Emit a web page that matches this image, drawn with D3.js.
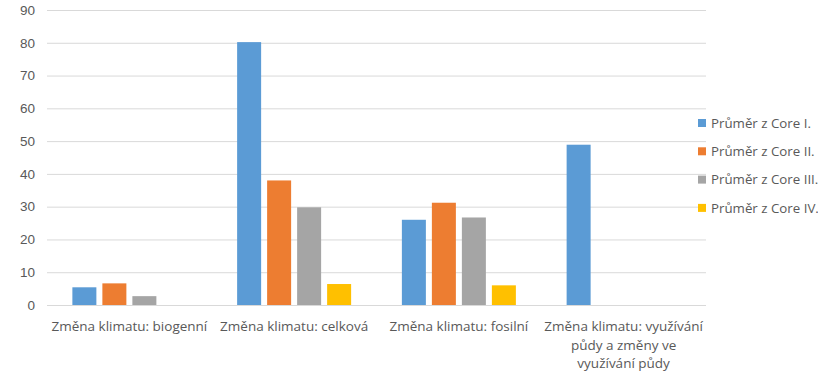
<!DOCTYPE html>
<html>
<head>
<meta charset="utf-8">
<script src="https://cdn.jsdelivr.net/npm/d3@7"></script>
<style>
  html, body { margin: 0; padding: 0; background: #fff; }
  svg { display: block; font-family: "Open Sans", "Liberation Sans", sans-serif; }
</style>
</head>
<body>
<svg id="chart" width="818" height="371"></svg>
<script>
// Categories (each wrapped into lines for the x axis)
const categories = [
  ["Změna klimatu: biogenní"],
  ["Změna klimatu: celková"],
  ["Změna klimatu: fosilní"],
  ["Změna klimatu: využívání", "půdy a změny ve", "využívání půdy"]
];
const seriesNames = ["Průměr z Core I.", "Průměr z Core II.", "Průměr z Core III.", "Průměr z Core IV."];
const seriesColors = ["#5b9bd5", "#ed7d31", "#a5a5a5", "#ffc000"];
const coreI   = [5.4, 80.2, 26.0, 48.9];
const coreII  = [6.6, 38.0, 31.2, null];
const coreIII = [2.7, 29.8, 26.7, null];
const coreIV  = [null, 6.4, 6.0, null];
const yTicks = [0, 10, 20, 30, 40, 50, 60, 70, 80, 90];

const seriesValues = [coreI, coreII, coreIII, coreIV];

const svg = d3.select("#chart");
const plotLeft = 47, plotRight = 706, plotTop = 10, plotBottom = 305;

const x = d3.scaleBand().domain(d3.range(categories.length)).range([plotLeft, plotRight]);
const xs = d3.scaleBand().domain(d3.range(seriesNames.length))
  .range([0, 120]).paddingInner(0.2).paddingOuter(0.1);
const y = d3.scaleLinear().domain([0, 90]).range([plotBottom, plotTop]);

// Gridlines and y tick labels
const yAxis = d3.axisLeft(y).tickValues(yTicks).tickSize(-(plotRight - plotLeft)).tickPadding(12);
const gy = svg.append("g").attr("transform", `translate(${plotLeft},0)`).call(yAxis);
gy.select(".domain").remove();
gy.selectAll(".tick line").attr("stroke", "#d9d9d9").attr("stroke-width", 1);
gy.selectAll(".tick text").attr("fill", "#595959").style("font-size", "13.5px");

// Bars
const groups = svg.append("g").selectAll("g")
  .data(categories.map((c, i) => i))
  .join("g")
  .attr("transform", i => `translate(${x(i) + x.bandwidth() / 2 - 60},0)`);

groups.selectAll("rect")
  .data(i => seriesValues.map((vals, s) => ({ s, v: vals[i] })).filter(d => d.v != null))
  .join("rect")
  .attr("x", d => xs(d.s))
  .attr("width", xs.bandwidth())
  .attr("y", d => y(d.v))
  .attr("height", d => y(0) - y(d.v))
  .attr("fill", d => seriesColors[d.s]);

// X axis labels
const gx = svg.append("g");
categories.forEach((lines, i) => {
  const t = gx.append("text")
    .attr("x", x(i) + x.bandwidth() / 2)
    .attr("y", 331)
    .attr("text-anchor", "middle")
    .attr("fill", "#595959")
    .style("font-size", "13.5px");
  lines.forEach((ln, k) => {
    t.append("tspan").attr("x", x(i) + x.bandwidth() / 2).attr("dy", k === 0 ? 0 : 18.5).text(ln);
  });
});

// Legend
const legend = svg.append("g").attr("transform", "translate(698,123)");
seriesNames.forEach((name, i) => {
  const g = legend.append("g").attr("transform", `translate(0,${i * 28.3})`);
  g.append("rect").attr("x", 0).attr("y", -4).attr("width", 8).attr("height", 8).attr("fill", seriesColors[i]);
  g.append("text").attr("x", 13).attr("y", 0).attr("dy", "0.35em")
    .attr("fill", "#595959").style("font-size", "13.3px").text(name);
});
</script>
</body>
</html>
